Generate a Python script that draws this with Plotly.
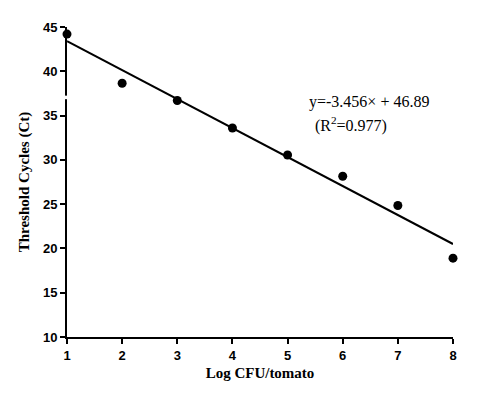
import numpy as np
import plotly.graph_objects as go

log_cfu = [1, 2, 3, 4, 5, 6, 7, 8]
ct_values = [44.2, 38.65, 36.7, 33.6, 30.55, 28.15, 24.85, 18.9]
y_ticks = [10, 15, 20, 25, 30, 35, 40, 45]
eq_text = "y=-3.456\u00d7 + 46.89"
r2_text = "(R<sup>2</sup>=0.977)"

slope, intercept = np.polyfit(log_cfu, ct_values, 1)
fit_x = [log_cfu[0], log_cfu[-1]]
fit_y = [slope * v + intercept for v in fit_x]

fig = go.Figure()
fig.add_trace(go.Scatter(x=fit_x, y=fit_y, mode="lines",
                         line=dict(color="black", width=2), cliponaxis=False,
                         showlegend=False, hoverinfo="skip"))
fig.add_trace(go.Scatter(x=log_cfu, y=ct_values, mode="markers",
                         marker=dict(color="black", size=9), cliponaxis=False,
                         showlegend=False))

axis_font = dict(family="Liberation Sans, Arial", size=13, color="black")
title_font = dict(family="Liberation Serif, Times New Roman", size=15, color="black")

fig.update_xaxes(range=[1, 8], tickvals=log_cfu,
                 ticktext=[f"<b>{v}</b>" for v in log_cfu],
                 ticks="outside", ticklen=5,
                 tickwidth=2, tickcolor="black", showline=True, linewidth=2,
                 linecolor="black", showgrid=False, zeroline=False,
                 tickfont=axis_font, automargin=False,
                 title=dict(text="<b>Log CFU/tomato</b>", font=title_font, standoff=6))
fig.update_yaxes(range=[10, 45], tickvals=y_ticks,
                 ticktext=[f"<b>{v}</b>" for v in y_ticks],
                 ticks="outside", ticklen=5,
                 tickwidth=2, tickcolor="black", showline=True, linewidth=2,
                 linecolor="black", showgrid=False, zeroline=False,
                 tickfont=axis_font, automargin=False,
                 title=dict(text="<b>Threshold Cycles (Ct)</b>", font=title_font, standoff=10))

# axis break gap
fig.add_shape(type="rect", xref="paper", yref="y", x0=-0.02, x1=0.006,
              y0=36.85, y1=37.25, fillcolor="white", line=dict(width=0),
              layer="above")

ann_font = dict(family="Liberation Serif, Times New Roman", size=16, color="black")
fig.add_annotation(x=6.47, y=36.55, text=eq_text, showarrow=False, font=ann_font,
                   xanchor="center", yanchor="middle")
fig.add_annotation(x=6.15, y=33.95, text=r2_text, showarrow=False, font=ann_font,
                   xanchor="center", yanchor="middle")

# page body has an 8px default margin; offset margins to compensate
fig.update_layout(width=500, height=396, plot_bgcolor="white", paper_bgcolor="white",
                  margin=dict(l=59, r=55, t=19, b=67, autoexpand=False), showlegend=False)

fig.write_html("out.html")
